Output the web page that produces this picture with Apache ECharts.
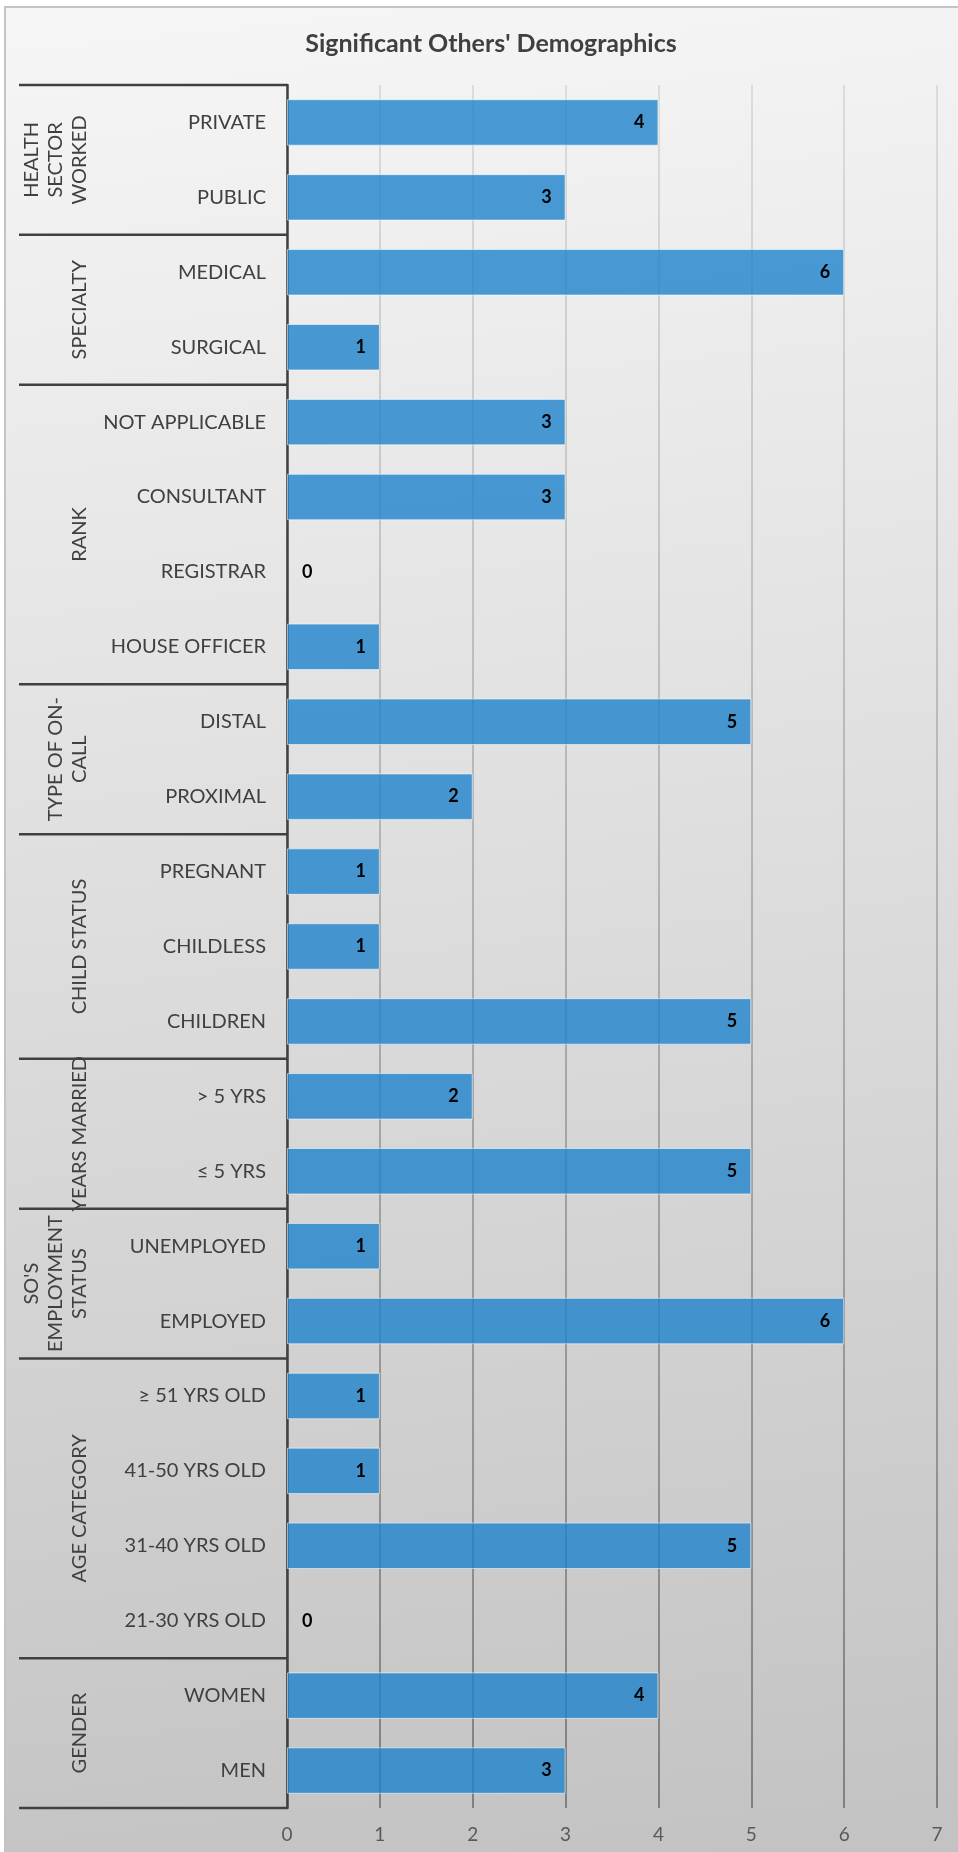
<!DOCTYPE html>
<html>
<head>
<meta charset="utf-8">
<script src="https://cdn.jsdelivr.net/npm/echarts@6/dist/echarts.min.js"></script>
<style>
html,body{margin:0;padding:0;background:#ffffff;}
#main{width:958px;height:1852px;}
</style>
</head>
<body>
<div id="main"></div>
<script>
const titleText = "Significant Others' Demographics";
const groupNames = ['HEALTH\nSECTOR\nWORKED', 'SPECIALTY', 'RANK', 'TYPE OF ON-\nCALL', 'CHILD STATUS', 'YEARS MARRIED', "SO'S\nEMPLOYMENT\nSTATUS", 'AGE CATEGORY', 'GENDER'];
const groupSizes = [2, 2, 4, 2, 3, 2, 2, 4, 2];
const categories = ['PRIVATE', 'PUBLIC', 'MEDICAL', 'SURGICAL', 'NOT APPLICABLE', 'CONSULTANT', 'REGISTRAR', 'HOUSE OFFICER', 'DISTAL', 'PROXIMAL', 'PREGNANT', 'CHILDLESS', 'CHILDREN', '> 5 YRS', '\u2264 5 YRS', 'UNEMPLOYED', 'EMPLOYED', '\u2265 51 YRS OLD', '41-50 YRS OLD', '31-40 YRS OLD', '21-30 YRS OLD', 'WOMEN', 'MEN'];
const values = [4, 3, 6, 1, 3, 3, 0, 1, 5, 2, 1, 1, 5, 2, 5, 1, 6, 1, 1, 5, 0, 4, 3];
const xMin = 0, xMax = 7, xStep = 1;

const FONT = 'Lato, "Open Sans", sans-serif';
const chart = echarts.init(document.getElementById('main'));

const grid = {left: 287, right: 21, top: 85, bottom: 44};

const barData = values.map(v => v === 0
  ? {value: v, itemStyle: {borderWidth: 0}, label: {position: 'right', distance: 15}}
  : {value: v});

chart.setOption({
  backgroundColor: 'transparent',
  animation: false,
  title: {
    text: titleText,
    left: 486, top: 26, textAlign: 'center',
    textStyle: {fontFamily: FONT, fontWeight: 'bold', fontSize: 25, color: '#404040'}
  },
  grid: grid,
  xAxis: {
    type: 'value', min: xMin, max: xMax, interval: xStep,
    axisLine: {show: false}, axisTick: {show: false},
    axisLabel: {margin: 17, fontFamily: FONT, fontSize: 19, color: '#595959'},
    splitLine: {show: true, lineStyle: {width: 2, color: new echarts.graphic.LinearGradient(0, 85, 0, 1808, [
      {offset: 0, color: '#dcdcdc'}, {offset: 1, color: '#808080'}], true)}}
  },
  yAxis: {
    type: 'category', data: categories, inverse: true,
    axisLine: {show: true, lineStyle: {color: '#404040', width: 2.5}},
    axisTick: {show: false},
    axisLabel: {margin: 21, fontFamily: FONT, fontSize: 20, color: '#404040', interval: 0}
  },
  series: [{
    type: 'bar', data: barData, barCategoryGap: '38%',
    itemStyle: {color: 'rgba(30,130,205,0.8)', borderColor: 'rgba(255,255,255,0.55)', borderWidth: 1},
    label: {show: true, position: 'insideRight', distance: 14, fontFamily: FONT, fontWeight: 'bold', fontSize: 18, color: '#000000'}
  }]
});

// group separators and group labels positioned through the category axis scale
const p0 = chart.convertToPixel({yAxisIndex: 0}, categories[0]);
const p1 = chart.convertToPixel({yAxisIndex: 0}, categories[1]);
const band = p1 - p0;
const axisX = chart.convertToPixel({xAxisIndex: 0}, xMin);
const lineLeft = 19;
const graphics = [{
  type: 'rect', z: -10, silent: true,
  shape: {x: 5, y: 7, width: 1000, height: 1900},
  style: {
    fill: new echarts.graphic.LinearGradient(0, 0, 0.2, 1, [
      {offset: 0, color: '#f6f6f6'}, {offset: 1, color: '#c3c3c3'}]),
    stroke: '#c4c4c4', lineWidth: 2
  }
}];
let idx = 0;
const bounds = [];
groupSizes.forEach((n, g) => {
  const top = chart.convertToPixel({yAxisIndex: 0}, categories[idx]) - band / 2;
  const bot = chart.convertToPixel({yAxisIndex: 0}, categories[idx + n - 1]) + band / 2;
  if (g === 0) bounds.push(top);
  bounds.push(bot);
  graphics.push({
    type: 'text', z: 10, silent: true,
    x: 92, y: (top + bot) / 2, rotation: Math.PI / 2,
    style: {text: groupNames[g], fontFamily: FONT, fontSize: 20, fill: '#404040',
      align: 'center', verticalAlign: 'bottom', lineHeight: 24}
  });
  idx += n;
});
bounds.forEach(y => {
  graphics.push({
    type: 'line', z: 10, silent: true,
    shape: {x1: lineLeft, y1: y, x2: axisX, y2: y},
    style: {stroke: '#404040', lineWidth: 2.5}
  });
});
chart.setOption({graphic: graphics});
</script>
</body>
</html>
